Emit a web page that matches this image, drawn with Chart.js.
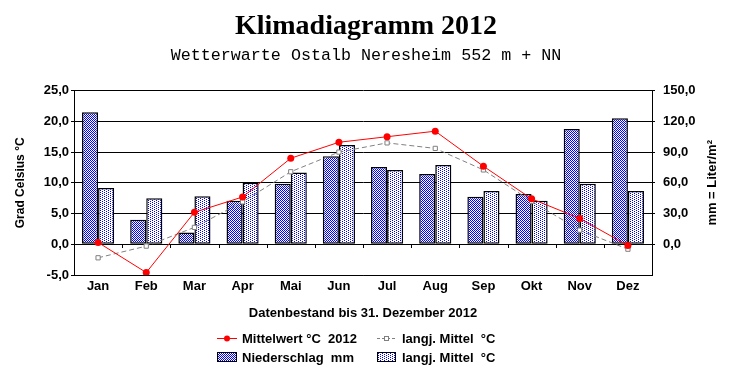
<!DOCTYPE html>
<html>
<head>
<meta charset="utf-8">
<script src="https://cdn.jsdelivr.net/npm/chart.js@4/dist/chart.umd.min.js"></script>
<style>
html,body{margin:0;padding:0;background:#fff;}
#wrap{width:732px;height:380px;position:relative;}
</style>
</head>
<body>
<div id="wrap"><canvas id="c" width="732" height="380"></canvas></div>
<script>
// ---- data ----
const months = ['Jan','Feb','Mar','Apr','Mai','Jun','Jul','Aug','Sep','Okt','Nov','Dez'];
const temp2012 = [0.3,-4.6,5.2,7.7,14.0,16.6,17.5,18.4,12.7,7.4,4.2,-0.2];
const tempMean = [-2.2,-0.3,2.75,6.9,11.8,15.0,16.5,15.6,12.1,7.0,2.3,-0.8];
const precip2012 = [129,24,11.5,42.5,59,86,75.5,68.5,46.5,49,112.5,123];
const precipMean = [55,45,47,60,70,97,72.5,77.5,52,42.5,59,52];
const tempTicks = {min:-5, max:25, step:5};
const precipTicks = {min:-30, max:150, step:30};
const titleText = 'Klimadiagramm 2012';
const subtitleText = 'Wetterwarte Ostalb Neresheim 552 m + NN';
const leftAxisTitle = 'Grad Celsius °C';
const rightAxisTitle = 'mm = Liter/m²';
const xAxisTitle = 'Datenbestand bis 31. Dezember 2012';
const legendLabels = ['Mittelwert °C  2012','langj. Mittel  °C','Niederschlag  mm','langj. Mittel  °C'];

// ---- patterns ----
function makePattern(w, h, dots){
  const c = document.createElement('canvas'); c.width = w; c.height = h;
  const x = c.getContext('2d');
  x.fillStyle = '#ffffff'; x.fillRect(0,0,w,h);
  x.fillStyle = '#0000ff';
  dots.forEach(d => x.fillRect(d[0], d[1], 1, 1));
  return x.createPattern(c, 'repeat');
}
const ctx = document.getElementById('c').getContext('2d');
const checker = makePattern(2,2,[[0,0],[1,1]]);
const dotted = makePattern(4,2,[[0,0],[2,1]]);

const fmt = v => v.toFixed(1).replace('.', ',');
const boldFont = {family:'Liberation Sans, Arial, sans-serif', size:13, weight:'bold'};

const extras = {
  id:'extras',
  afterDatasetsDraw(chart){
    // category-boundary tick marks on the zero line
    const c = chart.ctx, xs = chart.scales.x, ys = chart.scales.y;
    const y0 = Math.round(ys.getPixelForValue(0));
    c.save();
    c.strokeStyle = '#000'; c.lineWidth = 1;
    c.beginPath();
    for (let i = 1; i < months.length; i++) {
      const px = Math.round((xs.getPixelForValue(i-1) + xs.getPixelForValue(i)) / 2) + 0.5;
      c.moveTo(px, y0); c.lineTo(px, y0 + 4);
    }
    c.stroke();
    c.restore();
  },
  afterDraw(chart){
    const c = chart.ctx, a = chart.chartArea;
    c.save();
    c.font = 'bold 13px "Liberation Sans", Arial, sans-serif';
    c.fillStyle = '#000'; c.textAlign = 'center'; c.textBaseline = 'middle';
    c.translate(712, (a.top + a.bottom)/2);
    c.rotate(-Math.PI/2);
    c.fillText(rightAxisTitle, 0, 0);
    c.restore();

    // legend
    c.save();
    const rows = [338, 357], cols = [217, 377], sw = [20, 19], tx = [242, 402];
    c.font = 'bold 13px "Liberation Sans", Arial, sans-serif';
    c.textAlign = 'left'; c.textBaseline = 'middle';
    c.strokeStyle = '#ff0000'; c.lineWidth = 1;
    c.beginPath(); c.moveTo(cols[0], rows[0]+0.5); c.lineTo(cols[0]+sw[0], rows[0]+0.5); c.stroke();
    c.fillStyle = '#ff0000'; c.beginPath(); c.arc(cols[0]+sw[0]/2, rows[0]+0.5, 3, 0, Math.PI*2); c.fill();
    c.strokeStyle = '#808080'; c.setLineDash([3,2]);
    c.beginPath(); c.moveTo(cols[1], rows[0]+0.5); c.lineTo(cols[1]+sw[1], rows[0]+0.5); c.stroke();
    c.setLineDash([]);
    c.fillStyle = '#fff'; c.fillRect(cols[1]+7, rows[0]-2, 5, 5);
    c.strokeRect(cols[1]+7.5, rows[0]-1.5, 4, 4);
    c.fillStyle = checker; c.fillRect(cols[0], rows[1]-5, sw[0], 10);
    c.strokeStyle = '#000'; c.strokeRect(cols[0]+0.5, rows[1]-4.5, sw[0]-1, 9);
    c.fillStyle = dotted; c.fillRect(cols[1], rows[1]-5, sw[1], 10);
    c.strokeRect(cols[1]+0.5, rows[1]-4.5, sw[1]-1, 9);
    c.fillStyle = '#000';
    c.fillText(legendLabels[0], tx[0], rows[0]+1);
    c.fillText(legendLabels[1], tx[1], rows[0]+1);
    c.fillText(legendLabels[2], tx[0], rows[1]+1);
    c.fillText(legendLabels[3], tx[1], rows[1]+1);
    c.restore();
  }
};

new Chart(ctx, {
  data: {
    labels: months,
    datasets: [
      {type:'line', label:legendLabels[0], data:temp2012, yAxisID:'y', order:0,
       borderColor:'#ff0000', borderWidth:1, pointRadius:3.5, pointBackgroundColor:'#ff0000',
       pointBorderColor:'#ff0000', pointBorderWidth:0, tension:0},
      {type:'line', label:legendLabels[1], data:tempMean, yAxisID:'y', order:1,
       borderColor:'#808080', borderWidth:1, borderDash:[5,3], pointStyle:'rect', pointRadius:3,
       pointBackgroundColor:'#ffffff', pointBorderColor:'#808080', pointBorderWidth:1, tension:0},
      {type:'bar', label:legendLabels[2], data:precip2012, yAxisID:'y1', order:2,
       backgroundColor:checker, borderColor:'#000', borderWidth:1.5, borderSkipped:false,
       categoryPercentage:0.667, barPercentage:1.0},
      {type:'bar', label:legendLabels[3], data:precipMean, yAxisID:'y1', order:3,
       backgroundColor:dotted, borderColor:'#000', borderWidth:1.5, borderSkipped:false,
       categoryPercentage:0.667, barPercentage:1.0}
    ]
  },
  options: {
    responsive:false, animation:false, events:[],
    layout:{padding:{top:0, bottom:58, left:0, right:0}},
    plugins:{
      legend:{display:false}, tooltip:{enabled:false},
      title:{display:true, text:titleText, color:'#000',
        font:{family:'Liberation Serif, Times New Roman, serif', size:28, weight:'bold'},
        padding:{top:10, bottom:0}},
      subtitle:{display:true, text:subtitleText, color:'#000',
        font:{family:'Liberation Mono, Courier New, monospace', size:16.7, weight:'normal'},
        padding:{top:2, bottom:25}}
    },
    scales:{
      x:{type:'category', position:'bottom', offset:true,
        grid:{drawOnChartArea:false, drawTicks:false},
        border:{display:true, color:'#000', width:1},
        ticks:{color:'#000', font:boldFont, padding:4, maxRotation:0, autoSkip:false},
        title:{display:true, text:xAxisTitle, color:'#000', font:{family:'Liberation Sans, Arial, sans-serif', size:13, weight:'bold'}, padding:{top:0,bottom:1}},
        afterFit(s){ s.height = 47; }
      },
      y:{type:'linear', position:'left', min:tempTicks.min, max:tempTicks.max,
        grid:{color:'#000', lineWidth:1, tickLength:3, drawTicks:true},
        border:{display:true, color:'#000', width:1},
        ticks:{stepSize:tempTicks.step, color:'#000', font:boldFont, padding:2, callback:v => fmt(v)},
        title:{display:true, text:leftAxisTitle, color:'#000', font:{family:'Liberation Sans, Arial, sans-serif', size:12, weight:'bold'}, padding:{top:13, bottom:0}},
        afterFit(s){ s.width = 74; }
      },
      y1:{type:'linear', position:'right', min:precipTicks.min, max:precipTicks.max,
        grid:{drawOnChartArea:false, tickLength:3, color:'#000',
          tickColor:c => (c.tick && c.tick.value === precipTicks.min) ? 'rgba(0,0,0,0)' : '#000'},
        border:{display:true, color:'#000', width:1},
        ticks:{stepSize:precipTicks.step, color:'#000', font:boldFont, padding:8,
          callback:v => v === precipTicks.min ? '' : fmt(v)},
        afterFit(s){ s.width = 80; }
      }
    }
  },
  plugins:[extras]
});
</script>
</body>
</html>
